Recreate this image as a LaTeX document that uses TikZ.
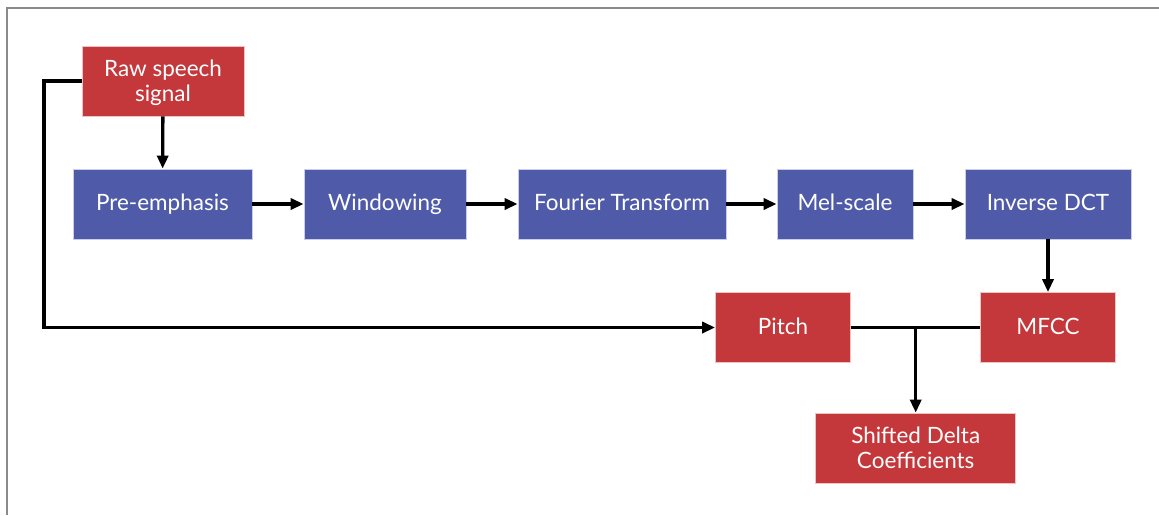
\documentclass[tikz,border=0pt]{standalone}
\usepackage{fontspec}
\setmainfont{Lato}
\usetikzlibrary{arrows.meta}
\definecolor{boxblue}{HTML}{4F5BA9}
\definecolor{boxred}{HTML}{C4373A}
\definecolor{frame}{HTML}{8A8A8A}
\begin{document}
\begin{tikzpicture}[x=0.02cm,y=-0.02cm,
  box/.style={draw=white!70!#1, line width=0.4pt, fill=#1, text=white, inner sep=0pt, align=center,
    font=\fontsize{12.8}{14.4}\selectfont},
  bbox/.style={box=boxblue, text height=0.86em, text depth=0.1em},
  rbox/.style={box=boxred},
  rbox1/.style={box=boxred, text height=0.86em, text depth=0.1em},
  conn/.style={line width=1.9pt, black},
  arr/.style={conn, -{Triangle[length=0.26cm,width=0.22cm]}}]
\useasboundingbox (0,0) rectangle (1159,515);
\draw[frame, line width=1.2pt] (7,515) -- (7,8) -- (1159,8);

\node[rbox, text depth=0pt, minimum width=162*0.02cm, minimum height=70*0.02cm] (raw) at (163,81) {Raw speech\\signal};
\node[bbox, minimum width=179*0.02cm, minimum height=70*0.02cm] (pre) at (162.5,204) {Pre-emphasis};
\node[bbox, minimum width=162*0.02cm, minimum height=70*0.02cm] (win) at (385,204) {Windowing};
\node[bbox, minimum width=208*0.02cm, minimum height=70*0.02cm] (fft) at (622,204) {Fourier Transform};
\node[bbox, minimum width=136*0.02cm, minimum height=70*0.02cm] (mel) at (845,204) {Mel-scale};
\node[bbox, minimum width=166*0.02cm, minimum height=70*0.02cm] (idct) at (1048,204) {Inverse DCT};
\node[rbox1, minimum width=135*0.02cm, minimum height=70*0.02cm] (pitch) at (783,327.5) {Pitch};
\node[rbox1, minimum width=135*0.02cm, minimum height=70*0.02cm] (mfcc) at (1048,327.5) {MFCC};
\node[rbox, minimum width=200*0.02cm, minimum height=70*0.02cm] (sdc) at (915.7,448) {Shifted Delta\\Coefficients};
\coordinate (j) at (sdc.north |- pitch.east);
\coordinate (corner1) at (44,0 |- raw.west);

\draw[arr] (raw) -- (pre);
\draw[arr] (pre) -- (win);
\draw[arr] (win) -- (fft);
\draw[arr] (fft) -- (mel);
\draw[arr] (mel) -- (idct);
\draw[arr] (idct) -- (mfcc);
\draw[arr] (raw.west) -- (corner1) |- (pitch.west);
\draw[conn] (pitch.east) -- (mfcc.west);
\draw[arr] (j) -- (sdc.north);
\end{tikzpicture}
\end{document}
